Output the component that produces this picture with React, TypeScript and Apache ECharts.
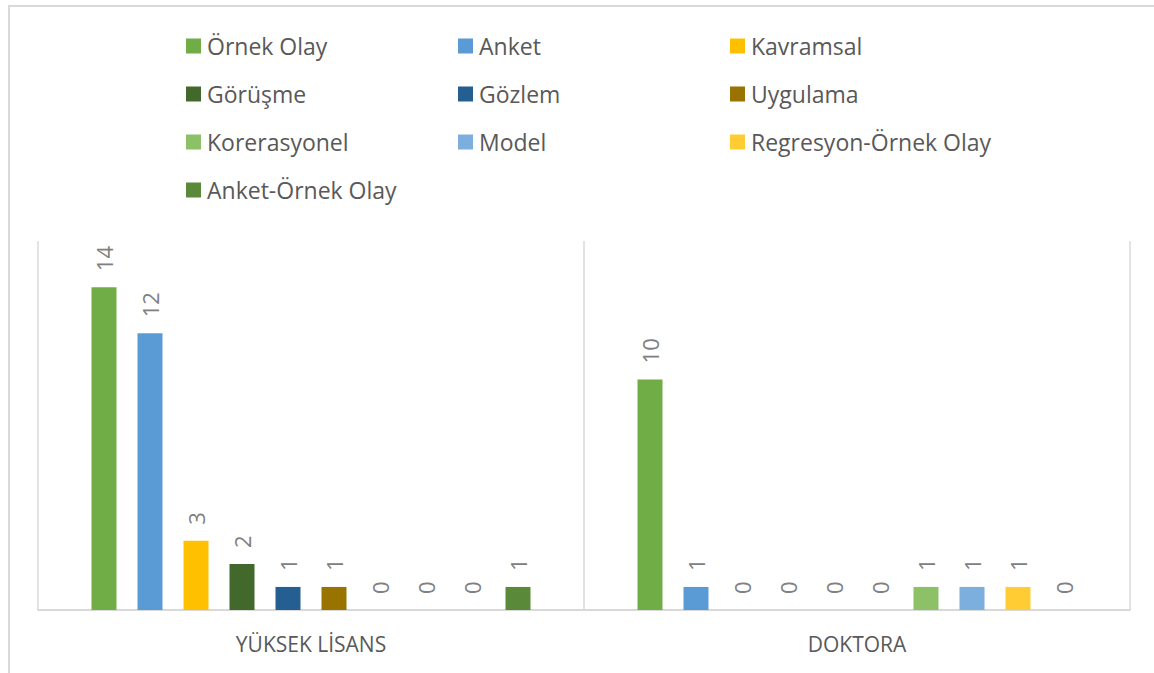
import React, { useEffect, useRef } from "react";
import * as echarts from "echarts";

const categories = ["YÜKSEK LİSANS", "DOKTORA"];
const seriesNames = [
  "Örnek Olay",
  "Anket",
  "Kavramsal",
  "Görüşme",
  "Gözlem",
  "Uygulama",
  "Korerasyonel",
  "Model",
  "Regresyon-Örnek Olay",
  "Anket-Örnek Olay",
];
const yuksekLisans = [14, 12, 3, 2, 1, 1, 0, 0, 0, 1];
const doktora = [10, 1, 0, 0, 0, 0, 1, 1, 1, 0];
const colors = [
  "#70AD47",
  "#5B9BD5",
  "#FFC000",
  "#43682B",
  "#255E91",
  "#997300",
  "#8CC168",
  "#7CAFDD",
  "#FFCD33",
  "#5A8A39",
];
const legendColumns = [
  ["Örnek Olay", "Görüşme", "Korerasyonel", "Anket-Örnek Olay"],
  ["Anket", "Gözlem", "Model"],
  ["Kavramsal", "Uygulama", "Regresyon-Örnek Olay"],
];
const legendLefts = [186, 458, 730];

export default function App() {
  const ref = useRef<HTMLDivElement>(null);
  useEffect(() => {
    if (!ref.current) return;
    const chart = echarts.init(ref.current, undefined, { renderer: "svg" });
    const font = "'Open Sans', sans-serif";
    chart.setOption({
      animation: false,
      backgroundColor: "#ffffff",
      color: colors,
      graphic: [
        {
          type: "rect",
          shape: { x: 9, y: 6, width: 1160, height: 700 },
          style: { fill: "none", stroke: "#d9d9d9", lineWidth: 2 },
          silent: true,
        },
      ],
      legend: legendColumns.map((col, i) => ({
        data: col,
        orient: "vertical",
        left: legendLefts[i],
        top: 34,
        padding: 0,
        itemWidth: 15,
        itemHeight: 15,
        itemGap: 24,
        icon: "rect",
        textStyle: {
          color: "#595959",
          fontSize: 23,
          fontFamily: font,
          lineHeight: 24,
          padding: [0, 0, 0, 1],
        },
        selectedMode: false,
      })),
      grid: { left: 38, right: 24, top: 241, bottom: 63 },
      xAxis: {
        type: "category",
        data: categories,
        axisLine: { show: true, lineStyle: { color: "#d9d9d9", width: 2 } },
        axisTick: { show: false },
        splitLine: { show: true, lineStyle: { color: "#d9d9d9", width: 1.5 } },
        axisLabel: {
          color: "#595959",
          fontSize: 21,
          fontFamily: font,
          margin: 23,
        },
      },
      yAxis: {
        type: "value",
        min: 0,
        max: 16,
        show: false,
        splitLine: { show: false },
      },
      series: seriesNames.map((name, i) => ({
        name,
        type: "bar",
        barWidth: 25,
        barGap: "84%",
        data: [yuksekLisans[i], doktora[i]],
        itemStyle: { color: colors[i] },
        label: {
          show: true,
          position: "top",
          rotate: 90,
          align: "left",
          verticalAlign: "middle",
          distance: 16,
          color: "#808080",
          fontSize: 22,
          fontFamily: font,
        },
      })),
    });
    return () => chart.dispose();
  }, []);
  return (
    <div
      ref={ref}
      style={{ position: "fixed", left: 0, top: 0, width: 1154, height: 673 }}
    />
  );
}
